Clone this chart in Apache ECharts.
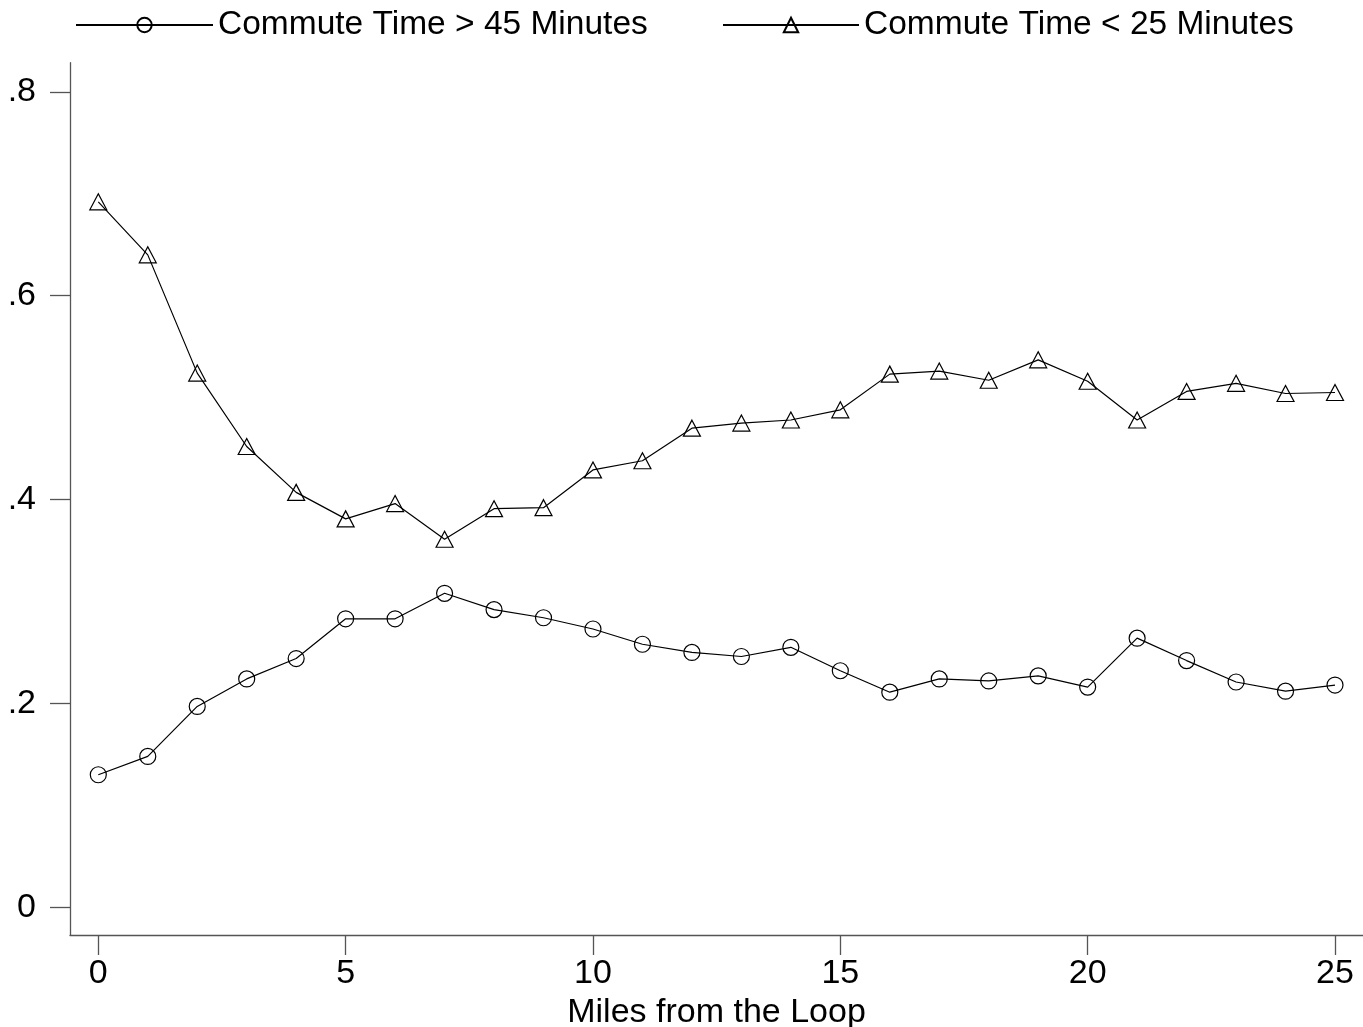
<!DOCTYPE html>
<html>
<head>
<meta charset="utf-8">
<script src="https://cdn.jsdelivr.net/npm/echarts@6/dist/echarts.min.js"></script>
<style>
html,body{margin:0;padding:0;background:#fff;}
#chart{width:1363px;height:1027px;}
</style>
</head>
<body>
<div id="chart"></div>
<script>
const miles = [0,1,2,3,4,5,6,7,8,9,10,11,12,13,14,15,16,17,18,19,20,21,22,23,24,25];
const commuteOver45 = [0.130,0.148,0.197,0.224,0.244,0.283,0.283,0.308,0.292,0.284,0.273,0.258,0.250,0.246,0.255,0.232,0.211,0.224,0.222,0.227,0.216,0.264,0.242,0.221,0.212,0.218];
const commuteUnder25 = [0.692,0.640,0.524,0.452,0.407,0.381,0.396,0.361,0.391,0.392,0.429,0.438,0.470,0.475,0.478,0.488,0.523,0.526,0.517,0.537,0.516,0.478,0.506,0.514,0.504,0.505];
const xTicks = [0,5,10,15,20,25];
const yTicks = [0,0.2,0.4,0.6,0.8];
const seriesNames = ['Commute Time > 45 Minutes','Commute Time < 25 Minutes'];
const xTitle = 'Miles from the Loop';

const FONT = '"Liberation Sans", Arial, Helvetica, sans-serif';
const chart = echarts.init(document.getElementById('chart'), null, {renderer:'canvas'});
const pairs = arr => miles.map((m,i)=>[m, arr[i]]);
const axisCol = '#555';

chart.setOption({
  animation:false,
  backgroundColor:'#fff',
  textStyle:{fontFamily:FONT},
  legend:[
    {data:[seriesNames[0]], left:70, top:3, itemWidth:137, itemHeight:18,
     textStyle:{fontSize:33.5, color:'#000', fontFamily:FONT}},
    {data:[seriesNames[1]], left:717, top:3, itemWidth:136, itemHeight:18,
     textStyle:{fontSize:33.5, color:'#000', fontFamily:FONT}}
  ],
  grid:{left:70, right:0, top:62.7, bottom:92, containLabel:false, outerBoundsMode:'none'},
  xAxis:{
    type:'value', min:-0.572, max:25.566,
    splitLine:{show:false},
    axisLine:{show:true, onZero:false, lineStyle:{color:axisCol, width:1.3}},
    axisTick:{show:true, length:20, customValues:xTicks, lineStyle:{color:axisCol, width:1.3}},
    axisLabel:{customValues:xTicks, margin:22, fontSize:34, color:'#000', fontFamily:FONT,
      showMinLabel:true, showMaxLabel:true},
    name:xTitle, nameLocation:'middle', nameGap:53,
    nameTextStyle:{fontSize:34, color:'#000', fontFamily:FONT}
  },
  yAxis:{
    type:'value', min:-0.0272, max:0.8285,
    splitLine:{show:false},
    axisLine:{show:true, onZero:false, lineStyle:{color:axisCol, width:1.3}},
    axisTick:{show:true, length:20, customValues:yTicks, lineStyle:{color:axisCol, width:1.3}},
    axisLabel:{customValues:yTicks, margin:34, fontSize:34, color:'#000', fontFamily:FONT,
      formatter:v => v===0 ? '0' : String(+v.toFixed(1)).replace(/^0\./,'.')}
  },
  series:[
    {name:seriesNames[0], type:'line', data:pairs(commuteOver45),
     symbol:'circle', symbolSize:16, showAllSymbol:true,
     lineStyle:{color:'#000', width:1.2},
     itemStyle:{color:'rgba(255,255,255,0)', borderColor:'#000', borderWidth:1.2}},
    {name:seriesNames[1], type:'line', data:pairs(commuteUnder25),
     symbol:'triangle', symbolSize:[17,16], showAllSymbol:true,
     lineStyle:{color:'#000', width:1.2},
     itemStyle:{color:'rgba(255,255,255,0)', borderColor:'#000', borderWidth:1.2}}
  ]
});
</script>
</body>
</html>
